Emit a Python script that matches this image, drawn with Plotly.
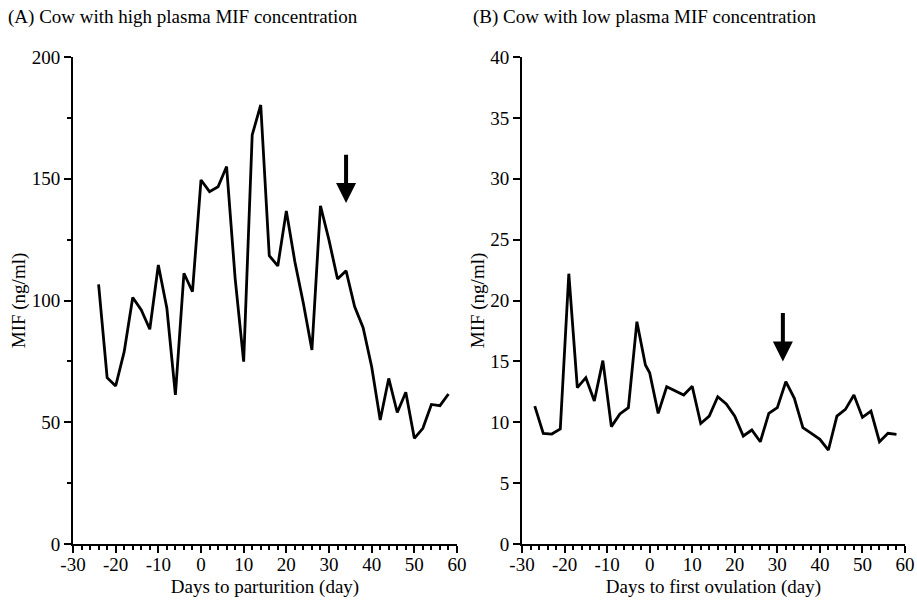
import plotly.graph_objects as go

# Panel A: cow with high plasma MIF concentration
days_a = [-24, -22, -20, -18, -16, -14, -12, -10, -8, -6, -4, -2, 0, 2, 4, 6, 8, 10,
          12, 14, 16, 18, 20, 22, 24, 26, 28, 30, 32, 34, 36, 38, 40, 42, 44, 46, 48,
          50, 52, 54, 56, 58]
mif_a = [106.6, 68.3, 64.9, 79.0, 101.2, 96.1, 88.2, 114.6, 96.8, 61.2, 111.2, 103.6,
         149.5, 144.7, 146.7, 155.0, 109.1, 74.9, 168.0, 180.3, 118.4, 114.2, 136.8,
         115.9, 98.8, 79.7, 138.9, 124.8, 108.8, 112.2, 97.5, 88.8, 72.8, 50.9, 68.0,
         54.0, 62.3, 43.4, 47.5, 57.3, 56.8, 61.6]

# Panel B: cow with low plasma MIF concentration
days_b = [-27, -25, -23, -21, -19, -17, -15, -13, -11, -9, -7, -5, -3, -1, 0, 2, 4, 6,
          8, 10, 12, 14, 16, 18, 20, 22, 24, 26, 28, 30, 32, 34, 36, 38, 40, 42, 44, 46,
          48, 50, 52, 54, 56, 58]
mif_b = [11.33, 9.09, 9.03, 9.45, 22.2, 12.84, 13.66, 11.75, 15.06, 9.64, 10.68, 11.2,
         18.26, 14.7, 14.07, 10.73, 12.92, 12.6, 12.24, 12.95, 9.9, 10.51, 12.1, 11.5,
         10.5, 8.87, 9.36, 8.4, 10.73, 11.2, 13.33, 11.96, 9.55, 9.09, 8.6, 7.72, 10.51,
         11.06, 12.24, 10.4, 10.92, 8.4, 9.09, 9.0]

# Arrows (day, tail value, tip value)
arrow_a = (34, 160.5, 140.0)
arrow_b = (31.3, 19.1, 15.0)

titles = ["(A) Cow with high plasma MIF concentration",
          "(B) Cow with low plasma MIF concentration"]
xtitles = ["Days to parturition (day)", "Days to first ovulation (day)"]
ytitle = "MIF (ng/ml)"
xticks = [-30, -20, -10, 0, 10, 20, 30, 40, 50, 60]
xticklabels = ["-30", "-20", "-10", "0", "10", "20", "30", "40", "50", "60"]

FONT = "Liberation Serif, Times New Roman, serif"
FS = 19
fig = go.Figure()
fig.add_trace(go.Scatter(x=days_a, y=mif_a, mode="lines",
                         line=dict(color="black", width=2.8), xaxis="x", yaxis="y",
                         showlegend=False))
fig.add_trace(go.Scatter(x=days_b, y=mif_b, mode="lines",
                         line=dict(color="black", width=2.8), xaxis="x2", yaxis="y2",
                         showlegend=False))

W, H = 917, 604
ydom = [1 - 544 / H, 1 - 57 / H]
xdom1 = [73 / W, 457 / W]
xdom2 = [522 / W, 905 / W]

common_x = dict(range=[-30, 60], tickmode="array", tickvals=xticks, ticktext=xticklabels,
                ticks="outside", ticklen=7, tickwidth=2, tickcolor="black",
                showline=True, linewidth=2, linecolor="black", showgrid=False,
                zeroline=False, tickfont=dict(family=FONT, size=FS, color="black"),
                ticklabelstandoff=-5,
                minor=dict(dtick=2, tick0=0, ticks="outside", ticklen=4, tickwidth=1.5,
                           tickcolor="black", showgrid=False),
                title=dict(font=dict(family=FONT, size=FS, color="black"), standoff=6),
                automargin=False, fixedrange=True)
common_y = dict(ticks="outside", ticklen=7, tickwidth=2, tickcolor="black",
                showline=True, linewidth=2, linecolor="black", showgrid=False,
                zeroline=False, tickfont=dict(family=FONT, size=FS, color="black"),
                title=dict(text=ytitle, font=dict(family=FONT, size=FS, color="black"),
                           standoff=1),
                automargin=False, fixedrange=True)

fig.update_layout(
    width=W, height=H,
    margin=dict(l=0, r=0, t=0, b=0),
    plot_bgcolor="white", paper_bgcolor="white",
    xaxis=dict(common_x, domain=xdom1, anchor="y", title_text=xtitles[0]),
    yaxis=dict(common_y, domain=ydom, anchor="x", range=[0, 200], dtick=50,
               minor=dict(dtick=25, ticks="outside", ticklen=4, tickwidth=1.5,
                          tickcolor="black", showgrid=False)),
    xaxis2=dict(common_x, domain=xdom2, anchor="y2", title_text=xtitles[1]),
    yaxis2=dict(common_y, domain=ydom, anchor="x2", range=[0, 40], dtick=5),
)

fig.add_annotation(text=titles[0], x=6 / W, y=1 - 17 / H, xref="paper", yref="paper",
                   xanchor="left", yanchor="middle", showarrow=False,
                   font=dict(family=FONT, size=FS, color="black"))
fig.add_annotation(text=titles[1], x=471 / W, y=1 - 17 / H, xref="paper", yref="paper",
                   xanchor="left", yanchor="middle", showarrow=False,
                   font=dict(family=FONT, size=FS, color="black"))

for (ax_, ay_ref, arr) in [("x", "y", arrow_a), ("x2", "y2", arrow_b)]:
    d, tail, tip = arr
    fig.add_annotation(x=d, y=tip, ax=d, ay=tail, xref=ax_, yref=ay_ref,
                       axref=ax_, ayref=ay_ref, showarrow=True, text="",
                       arrowhead=2, arrowsize=1, arrowwidth=4, arrowcolor="black")

fig.write_html("out.html")
